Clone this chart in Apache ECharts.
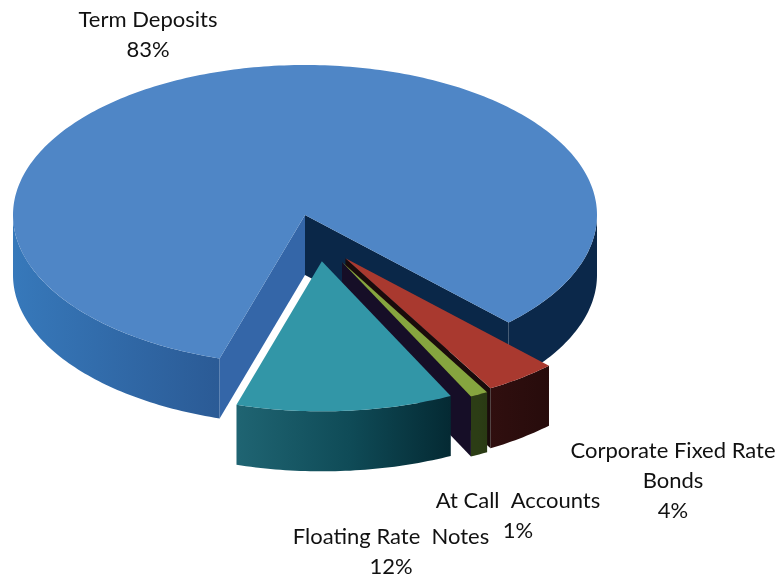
<!DOCTYPE html>
<html>
<head>
<meta charset="utf-8">
<script src="https://cdn.jsdelivr.net/npm/echarts@6/dist/echarts.min.js"></script>
<style>html,body{margin:0;padding:0;background:#fff}#main{width:784px;height:578px}</style>
</head>
<body>
<div id="main"></div>
<script>
// portfolio mix (percent)
var categories = ['Term Deposits', 'Corporate Fixed Rate\nBonds', 'At Call  Accounts', 'Floating Rate  Notes'];
var shares = [83, 4, 1, 12];

// styles
var topColors = ['#4f86c6', '#a9392f', '#86a53f', '#3296a7'];
var wallStops = [
  [[0, '#3779bb'], [0.35, '#2b5b96'], [0.55, '#163e6e'], [0.85, '#0b284a'], [1, '#0b284a']],
  [[0, '#300f0f'], [1, '#260b0b']],
  [[0, '#2c3d15'], [1, '#283812']],
  [[0, '#1f6472'], [0.5, '#0f4b57'], [1, '#03262f']]
];
var wallRange = [[10, 600], [490, 555], [478, 492], [238, 462]];
var startWall = ['#3466a8', '#1a0b0b', '#160e27', '#0b3540'];
var endWall = ['#0a2748', '#1a0b0b', '#160e27', '#0b3540'];
// explode amount along the slice's mid direction (x and y parts)
var explodeX = [0, 0.23, 0.27, 0.72];
var explodeY = [0, 0.36, 0.355, 0.31];
var labelPos = [[148, 35], [673, 481], [518, 516], [391, 552]];

var cx = 305, cy = 215, rx = 292, ry = 150, depth = 60, startAngle = 107;

var total = shares.reduce(function (a, b) { return a + b; }, 0);

function pt(ox, oy, deg, dz) {
  var r = deg * Math.PI / 180;
  return [cx + ox + rx * Math.cos(r), cy + oy + ry * Math.sin(r) + (dz || 0)];
}
function arc(ox, oy, a0, a1, dz) {
  var pts = [], n = Math.max(2, Math.ceil(Math.abs(a1 - a0)));
  for (var i = 0; i <= n; i++) pts.push(pt(ox, oy, a0 + (a1 - a0) * i / n, dz));
  return pts;
}

var chart = echarts.init(document.getElementById('main'));

function renderItem(params, api) {
  var idx = params.dataIndex;
  var before = 0;
  for (var i = 0; i < idx; i++) before += shares[i];
  var a0 = startAngle + before / total * 360;
  var a1 = a0 + shares[idx] / total * 360;
  var mid = (a0 + a1) / 2 * Math.PI / 180;
  var ox = explodeX[idx] * rx * Math.cos(mid);
  var oy = explodeY[idx] * ry * Math.sin(mid);
  var c = [cx + ox, cy + oy];
  var children = [];
  var grad = {
    type: 'linear', x: wallRange[idx][0], y: 0, x2: wallRange[idx][1], y2: 0, global: true,
    colorStops: wallStops[idx].map(function (s) { return { offset: s[0], color: s[1] }; })
  };
  // outer wall, front half only
  for (var k = 0; k < 3; k++) {
    var s = Math.max(a0, k * 360), e = Math.min(a1, k * 360 + 180);
    if (e > s) {
      var pts = arc(ox, oy, s, e, 0).concat(arc(ox, oy, e, s, depth));
      children.push({ type: 'polygon', shape: { points: pts }, style: { fill: grad } });
    }
  }
  // radial walls
  function wall(a, color) {
    var p = pt(ox, oy, a, 0), q = pt(ox, oy, a, depth);
    children.push({ type: 'polygon', shape: { points: [c, p, q, [c[0], c[1] + depth]] }, style: { fill: color } });
  }
  if (Math.cos(a0 * Math.PI / 180) < 0) wall(a0, startWall[idx]);
  if (Math.cos(a1 * Math.PI / 180) > 0) wall(a1, endWall[idx]);
  // top face
  children.push({ type: 'polygon', shape: { points: [c].concat(arc(ox, oy, a0, a1, 0)) }, style: { fill: topColors[idx] } });
  // label
  children.push({
    type: 'text', x: labelPos[idx][0], y: labelPos[idx][1],
    style: {
      text: categories[idx] + '\n' + shares[idx] + '%',
      fontSize: 22, fontFamily: 'Lato', fill: '#111',
      align: 'center', verticalAlign: 'middle', lineHeight: 30
    }
  });
  return { type: 'group', children: children };
}

chart.setOption({
  animation: false,
  series: [{
    type: 'custom',
    coordinateSystem: 'none',
    silent: true,
    renderItem: renderItem,
    data: shares.map(function (v, i) { return { name: categories[i], value: v }; })
  }]
});
</script>
</body>
</html>
